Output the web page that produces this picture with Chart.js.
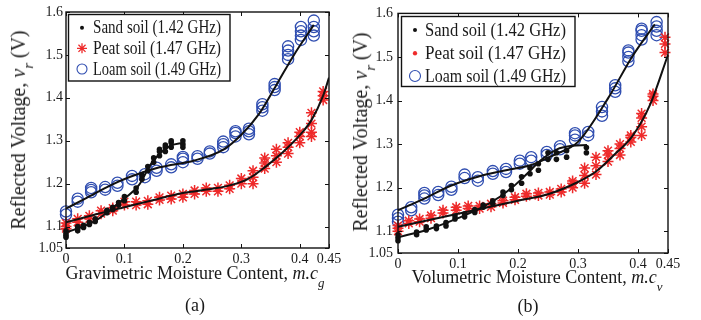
<!DOCTYPE html>
<html>
<head>
<meta charset="UTF-8">
<title>Reflected voltage vs moisture content</title>
<script src="https://cdn.jsdelivr.net/npm/chart.js"></script>
<style>
  body { margin: 0; background: #fff; }
  #wrap { position: relative; width: 701px; height: 320px; overflow: hidden;
          font-family: "Liberation Serif", "Times New Roman", serif; color: #1a1a1a; }
  canvas { position: absolute; top: 0; }
  .t { position: absolute; white-space: nowrap; font-size: 18px; transform: translate(-50%, -50%); }
  .yt { font-size: 20px; transform: translate(-50%, -50%) rotate(-90deg); }
  .t i sub { font-size: 0.72em; vertical-align: -0.55em; }
</style>
</head>
<body>
<div id="wrap">
  <canvas id="chartA" width="350" height="320" style="left:0"></canvas>
  <canvas id="chartB" width="351" height="320" style="left:350px"></canvas>

  <div class="t yt" style="left:22px; top:130px">Reflected Voltage, <i>v<sub>r</sub></i> (V)</div>
  <div class="t yt" style="left:364px; top:132px">Reflected Voltage, <i>v<sub>r</sub></i> (V)</div>
  <div class="t" style="left:195px; top:277px">Gravimetric Moisture Content, <i>m.c<sub>g</sub></i></div>
  <div class="t" style="left:537px; top:281px">Volumetric Moisture Content, <i>m.c<sub>v</sub></i></div>
  <div class="t" style="left:195px; top:305px">(a)</div>
  <div class="t" style="left:528px; top:306px">(b)</div>
</div>

<script>
const xTicks = [0, 0.1, 0.2, 0.3, 0.4, 0.45];
const yTicks = [1.05, 1.1, 1.2, 1.3, 1.4, 1.5, 1.6];
const legendLabels = ['Sand soil (1.42 GHz)', 'Peat soil (1.47 GHz)', 'Loam soil (1.49 GHz)'];

// (a) gravimetric moisture content
const sandGravX = [0,0,0,0, 0.02,0.02,0.02, 0.03,0.03, 0.04,0.04, 0.05,0.05, 0.07,0.07, 0.08,0.08, 0.09,0.09, 0.1,0.1, 0.12,0.12, 0.13,0.13, 0.14,0.14, 0.15,0.15, 0.16,0.16,0.16, 0.17,0.17,0.17, 0.18,0.18,0.18, 0.2,0.2,0.2];
const sandGravY = [1.075,1.08,1.085,1.09, 1.09,1.096,1.1, 1.098,1.103, 1.105,1.11, 1.112,1.118, 1.132,1.138, 1.14,1.145, 1.15,1.156, 1.16,1.17, 1.18,1.19, 1.21,1.22, 1.23,1.24, 1.25,1.26, 1.265,1.275,1.28, 1.275,1.285,1.29, 1.285,1.295,1.3, 1.285,1.292,1.3];
const peatGravX = [0,0,0, 0.02,0.02, 0.04,0.04, 0.06,0.06, 0.08,0.08, 0.1,0.1, 0.12,0.12, 0.14,0.14, 0.16,0.16, 0.18,0.18, 0.2,0.2, 0.22,0.22, 0.24,0.24, 0.26,0.26, 0.28,0.28, 0.3,0.3, 0.32,0.32,0.32, 0.34,0.34,0.34, 0.36,0.36,0.36, 0.38,0.38,0.38, 0.4,0.4,0.4, 0.42,0.42,0.42,0.42, 0.44,0.44,0.44];
const peatGravY = [1.095,1.1,1.108, 1.11,1.118, 1.118,1.125, 1.13,1.137, 1.137,1.143, 1.15,1.158, 1.15,1.158, 1.152,1.16, 1.162,1.168, 1.164,1.172, 1.168,1.176, 1.176,1.184, 1.182,1.19, 1.182,1.19, 1.188,1.196, 1.2,1.212, 1.2,1.215,1.23, 1.235,1.248,1.26, 1.25,1.265,1.28, 1.27,1.285,1.295, 1.295,1.31,1.32, 1.31,1.32,1.34,1.365, 1.395,1.405,1.415];
const loamGravX = [0,0, 0.02,0.02, 0.043,0.043,0.043, 0.067,0.067, 0.088,0.088, 0.113,0.113, 0.135,0.135, 0.155,0.155, 0.18,0.18, 0.2,0.2,0.2, 0.225,0.225, 0.246,0.246, 0.269,0.269,0.269, 0.29,0.29,0.29, 0.313,0.313,0.313, 0.336,0.336,0.336, 0.357,0.357,0.357, 0.38,0.38,0.38,0.38, 0.402,0.402,0.402,0.402, 0.424,0.424,0.424,0.424];
const loamGravY = [1.128,1.135, 1.158,1.165, 1.18,1.185,1.19, 1.186,1.192, 1.195,1.202, 1.21,1.218, 1.215,1.222, 1.23,1.237, 1.238,1.245, 1.25,1.258,1.262, 1.258,1.264, 1.27,1.275, 1.285,1.292,1.298, 1.31,1.318,1.322, 1.315,1.322,1.328, 1.37,1.378,1.385, 1.418,1.425,1.432, 1.49,1.5,1.51,1.52, 1.535,1.545,1.555,1.565, 1.545,1.555,1.565,1.58];

const sandGravFitX = [0, 0.05, 0.093, 0.125, 0.145, 0.162, 0.18, 0.2];
const sandGravFitY = [1.086, 1.113, 1.158, 1.197, 1.245, 1.272, 1.289, 1.295];
const peatGravFitX = [0, 0.05, 0.1, 0.15, 0.2, 0.25, 0.28, 0.31, 0.34, 0.37, 0.4, 0.42, 0.44, 0.45];
const peatGravFitY = [1.11, 1.128, 1.145, 1.162, 1.178, 1.188, 1.196, 1.21, 1.238, 1.272, 1.313, 1.348, 1.405, 1.447];
const loamGravFitX = [0, 0.033, 0.076, 0.11, 0.16, 0.22, 0.27, 0.3, 0.33, 0.36, 0.39, 0.424];
const loamGravFitY = [1.142, 1.165, 1.196, 1.216, 1.238, 1.254, 1.28, 1.314, 1.362, 1.43, 1.5, 1.57];

// (b) volumetric moisture content
const sandVolX = [0,0,0, 0.031,0.031, 0.047,0.047, 0.064,0.064, 0.08,0.08, 0.095,0.095, 0.111,0.111, 0.128,0.128, 0.142,0.142, 0.158,0.158, 0.175,0.175, 0.189,0.189, 0.206,0.206, 0.22,0.22, 0.234,0.234, 0.25,0.25, 0.264,0.264, 0.281,0.281, 0.314,0.314];
const sandVolY = [1.078,1.085,1.092, 1.092,1.098, 1.103,1.11, 1.106,1.112, 1.112,1.12, 1.128,1.135, 1.133,1.14, 1.143,1.15, 1.155,1.16, 1.163,1.17, 1.182,1.19, 1.195,1.205, 1.21,1.225, 1.232,1.245, 1.24,1.255, 1.265,1.28, 1.265,1.28, 1.27,1.285, 1.28,1.292];
const peatVolX = [0,0,0, 0.018,0.018, 0.036,0.036, 0.055,0.055, 0.075,0.075, 0.097,0.097, 0.117,0.117, 0.136,0.136, 0.155,0.155, 0.175,0.175, 0.195,0.195, 0.214,0.214, 0.234,0.234, 0.253,0.253, 0.272,0.272, 0.291,0.291,0.291, 0.311,0.311,0.311, 0.33,0.33,0.33, 0.35,0.35,0.35, 0.37,0.37,0.37, 0.388,0.388,0.388, 0.406,0.406,0.406,0.406, 0.425,0.425,0.425, 0.445,0.445,0.445];
const peatVolY = [1.1,1.107,1.113, 1.118,1.124, 1.122,1.128, 1.13,1.136, 1.142,1.148, 1.148,1.155, 1.152,1.158, 1.152,1.158, 1.156,1.163, 1.165,1.17, 1.172,1.178, 1.18,1.186, 1.182,1.188, 1.184,1.19, 1.19,1.197, 1.2,1.21,1.215, 1.21,1.228,1.245, 1.23,1.25,1.27, 1.26,1.275,1.285, 1.275,1.29,1.3, 1.305,1.315,1.32, 1.32,1.34,1.36,1.37, 1.4,1.41,1.415, 1.51,1.53,1.545];
const loamVolX = [0,0,0, 0.022,0.022, 0.044,0.044,0.044, 0.067,0.067, 0.089,0.089, 0.111,0.111, 0.133,0.133, 0.158,0.158, 0.18,0.18, 0.203,0.203, 0.222,0.222, 0.248,0.248, 0.27,0.27, 0.295,0.295,0.295, 0.317,0.317, 0.34,0.34,0.34, 0.362,0.362,0.362, 0.384,0.384,0.384,0.384, 0.406,0.406,0.406,0.406, 0.431,0.431,0.431,0.431];
const loamVolY = [1.122,1.13,1.138, 1.148,1.155, 1.175,1.182,1.188, 1.183,1.19, 1.195,1.202, 1.222,1.23, 1.216,1.224, 1.232,1.238, 1.236,1.243, 1.255,1.262, 1.262,1.27, 1.275,1.282, 1.288,1.295, 1.31,1.32,1.325, 1.32,1.328, 1.365,1.375,1.385, 1.42,1.428,1.435, 1.49,1.5,1.51,1.515, 1.54,1.55,1.56,1.565, 1.55,1.56,1.57,1.58];

const sandVolFitX = [0, 0.05, 0.1, 0.15, 0.19, 0.215, 0.24, 0.265, 0.29, 0.315];
const sandVolFitY = [1.086, 1.104, 1.13, 1.162, 1.2, 1.232, 1.265, 1.288, 1.296, 1.298];
const peatVolFitX = [0, 0.05, 0.1, 0.15, 0.2, 0.25, 0.3, 0.33, 0.36, 0.39, 0.42, 0.45];
const peatVolFitY = [1.11, 1.125, 1.14, 1.155, 1.17, 1.185, 1.213, 1.237, 1.275, 1.317, 1.39, 1.505];
const loamVolFitX = [0, 0.044, 0.089, 0.133, 0.18, 0.222, 0.26, 0.3, 0.35, 0.39, 0.428];
const loamVolFitY = [1.148, 1.175, 1.205, 1.225, 1.24, 1.252, 1.275, 1.305, 1.405, 1.5, 1.575];

const RED = '#ee2a2a', BLUE = '#2f4db0', INK = '#111';
const pts = (xs, ys) => xs.map((x, i) => ({ x: x, y: ys[i] }));

function scatterSet(data, kind) {
  const base = { data: data, showLine: false, order: 2, clip: false };
  if (kind === 'sand') return Object.assign(base, { pointStyle: 'circle', pointRadius: 2.8, backgroundColor: INK, borderColor: INK, borderWidth: 0 });
  if (kind === 'peat') return Object.assign(base, { pointStyle: 'star', pointRadius: 5.5, borderColor: RED, backgroundColor: RED, borderWidth: 1.5 });
  return Object.assign(base, { pointStyle: 'circle', pointRadius: 5.6, borderColor: BLUE, backgroundColor: 'rgba(0,0,0,0)', borderWidth: 1.3 });
}
function fitSet(data) {
  return { data: data, showLine: true, order: 0, pointRadius: 0, borderColor: INK, borderWidth: 2,
           cubicInterpolationMode: 'monotone', fill: false };
}

function drawMarker(ctx, kind, x, y, r) {
  ctx.save();
  if (kind === 'sand') {
    ctx.fillStyle = INK; ctx.beginPath(); ctx.arc(x, y, r, 0, Math.PI * 2); ctx.fill();
  } else if (kind === 'peat') {
    ctx.strokeStyle = RED; ctx.lineWidth = 1.3; ctx.beginPath();
    for (let k = 0; k < 4; k++) {
      const a = k * Math.PI / 4;
      ctx.moveTo(x - r * Math.cos(a), y - r * Math.sin(a));
      ctx.lineTo(x + r * Math.cos(a), y + r * Math.sin(a));
    }
    ctx.stroke();
  } else {
    ctx.strokeStyle = BLUE; ctx.lineWidth = 1.1; ctx.beginPath(); ctx.arc(x, y, r, 0, Math.PI * 2); ctx.stroke();
  }
  ctx.restore();
}

// box frame, inward ticks on all four sides, and the legend inside the plot
const framePlugin = {
  id: 'frame',
  afterDraw(chart, args, opts) {
    const ctx = chart.ctx, a = chart.chartArea, sx = chart.scales.x, sy = chart.scales.y;
    ctx.save();
    ctx.strokeStyle = INK; ctx.lineWidth = 1.4;
    ctx.strokeRect(a.left, a.top, a.right - a.left, a.bottom - a.top);
    ctx.lineWidth = 1;
    ctx.beginPath();
    xTicks.forEach(v => {
      const p = Math.round(sx.getPixelForValue(v)) + 0.5;
      ctx.moveTo(p, a.bottom); ctx.lineTo(p, a.bottom - 4);
      ctx.moveTo(p, a.top); ctx.lineTo(p, a.top + 4);
    });
    yTicks.forEach(v => {
      const p = Math.round(sy.getPixelForValue(v)) + 0.5;
      ctx.moveTo(a.left, p); ctx.lineTo(a.left + 4, p);
      ctx.moveTo(a.right, p); ctx.lineTo(a.right - 4, p);
    });
    ctx.stroke();

    const L = opts.legend;
    ctx.fillStyle = '#fff';
    ctx.fillRect(L.x, L.y, L.w, L.h);
    ctx.strokeStyle = INK; ctx.lineWidth = 1.4;
    ctx.strokeRect(L.x, L.y, L.w, L.h);
    ctx.font = L.font + 'px "Liberation Serif", serif';
    ctx.fillStyle = '#1a1a1a';
    ctx.textBaseline = 'middle';
    ['sand', 'peat', 'loam'].forEach((kind, i) => {
      drawMarker(ctx, kind, L.mx, L.rows[i], L.r[i]);
      const w = ctx.measureText(legendLabels[i]).width;
      ctx.save();
      ctx.translate(L.tx, L.rows[i]);
      ctx.scale(L.tw / w, 1);
      ctx.fillText(legendLabels[i], 0, 1);
      ctx.restore();
    });
    ctx.restore();
  }
};

function makeChart(id, sets, fits, geo) {
  new Chart(document.getElementById(id), {
    type: 'scatter',
    data: {
      datasets: [
        scatterSet(pts(sets[0][0], sets[0][1]), 'sand'),
        scatterSet(pts(sets[1][0], sets[1][1]), 'peat'),
        scatterSet(pts(sets[2][0], sets[2][1]), 'loam'),
        fitSet(pts(fits[0][0], fits[0][1])),
        fitSet(pts(fits[1][0], fits[1][1])),
        fitSet(pts(fits[2][0], fits[2][1]))
      ]
    },
    options: {
      responsive: false,
      devicePixelRatio: 1,
      animation: false,
      layout: { padding: { top: geo.top, right: geo.right, left: 0, bottom: 0 } },
      plugins: { legend: { display: false }, tooltip: { enabled: false }, frame: { legend: geo.legend } },
      scales: {
        x: {
          type: 'linear', min: 0, max: 0.45,
          afterBuildTicks: s => { s.ticks = xTicks.map(v => ({ value: v })); },
          afterFit: s => { s.height = geo.xh; },
          grid: { display: false, drawTicks: false },
          border: { display: false },
          ticks: { padding: 3, maxRotation: 0, autoSkip: false, color: '#1a1a1a',
                   font: { family: '"Liberation Serif", serif', size: 14 }, callback: v => String(v) }
        },
        y: {
          type: 'linear', min: 1.05, max: 1.6,
          afterBuildTicks: s => { s.ticks = yTicks.map(v => ({ value: v })); },
          afterFit: s => { s.width = geo.yw; },
          grid: { display: false, drawTicks: false },
          border: { display: false },
          ticks: { padding: geo.ypad, autoSkip: false, color: '#1a1a1a',
                   font: { family: '"Liberation Serif", serif', size: 14 }, callback: v => String(v) }
        }
      }
    },
    plugins: [framePlugin]
  });
}

makeChart('chartA',
  [[sandGravX, sandGravY], [peatGravX, peatGravY], [loamGravX, loamGravY]],
  [[sandGravFitX, sandGravFitY], [peatGravFitX, peatGravFitY], [loamGravFitX, loamGravFitY]],
  { top: 12, right: 21, yw: 66, xh: 72, ypad: 3,
    legend: { x: 68.5, y: 14.5, w: 161.5, h: 66.5, rows: [27.7, 48.3, 69], r: [2, 5, 5], mx: 82, tx: 93, tw: 128, font: 18 } });

makeChart('chartB',
  [[sandVolX, sandVolY], [peatVolX, peatVolY], [loamVolX, loamVolY]],
  [[sandVolFitX, sandVolFitY], [peatVolFitX, peatVolFitY], [loamVolFitX, loamVolFitY]],
  { top: 13, right: 33, yw: 48, xh: 67, ypad: 5,
    legend: { x: 51.5, y: 16.5, w: 173.5, h: 70, rows: [30, 53.3, 76], r: [2, 2.2, 5.5], mx: 65, tx: 75, tw: 141, font: 19 } });
</script>
</body>
</html>
